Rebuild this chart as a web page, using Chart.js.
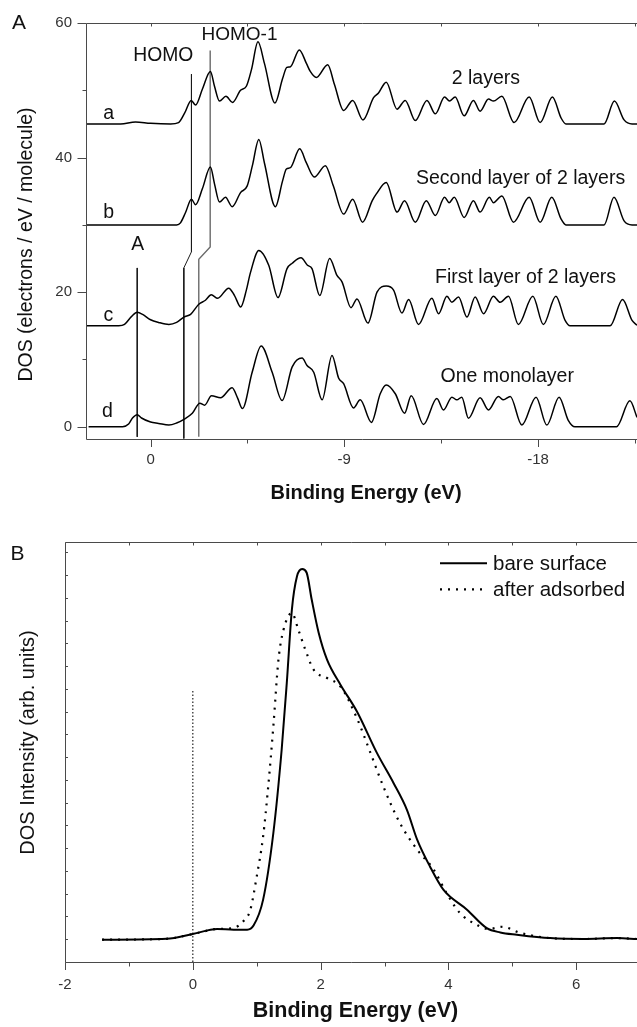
<!DOCTYPE html>
<html>
<head>
<meta charset="utf-8">
<script src="https://cdn.jsdelivr.net/npm/chart.js@4.4.1/dist/chart.umd.min.js"></script>
<style>
html,body{margin:0;padding:0;background:#fff;}
#wrap{position:relative;width:637px;height:1027px;overflow:hidden;background:#fff;}
#topChart{position:absolute;left:0;top:0;}
#botChart{position:absolute;left:0;top:515px;}
</style>
</head>
<body>
<div id="wrap">
<canvas id="topChart" width="637" height="515"></canvas>
<canvas id="botChart" width="637" height="512"></canvas>
</div>
<script>
// ---------------- Panel A data (binding energy in eV, DOS as plotted with offsets) ----------------
const energyA = [2.97, 1.39, 0.70, 0.00, -0.93, -1.30, -1.58, -1.89, -2.09, -2.41, -2.78, -2.97, -3.20, -3.50, -3.81, -4.18, -4.45, -4.69, -4.99, -5.29, -5.78, -6.13, -6.33, -6.50, -6.91, -7.24, -7.42, -7.70, -8.23, -8.54, -8.97, -9.39, -9.87, -10.36, -10.59, -10.95, -11.45, -11.83, -12.30, -12.84, -13.23, -13.66, -13.89, -14.15, -14.57, -15.00, -15.31, -15.70, -15.93, -16.32, -16.89, -17.59, -18.10, -18.67, -19.07, -19.30, -21.07, -21.55, -22.00, -22.37, -22.60];
const dosA = [45.0, 45.0, 45.3, 45.1, 45.0, 45.2, 46.6, 48.5, 47.8, 50.2, 52.8, 50.6, 48.4, 49.1, 48.2, 50.0, 50.6, 53.1, 57.2, 54.0, 48.1, 51.7, 53.4, 53.5, 56.0, 54.0, 52.8, 51.9, 53.8, 50.9, 47.0, 48.5, 45.6, 48.9, 49.6, 51.2, 47.2, 48.5, 45.5, 48.5, 46.5, 49.0, 48.4, 49.0, 46.2, 48.5, 46.9, 48.7, 48.4, 49.1, 45.2, 49.0, 45.2, 49.0, 45.9, 45.0, 45.0, 48.4, 45.6, 45.0, 45.0];

const energyB = [2.97, 1.39, 0.00, -1.21, -1.39, -1.62, -1.90, -2.09, -2.41, -2.78, -2.97, -3.20, -3.48, -3.79, -4.18, -4.49, -4.73, -5.03, -5.29, -5.80, -6.13, -6.31, -6.50, -6.93, -7.24, -7.61, -8.12, -8.49, -8.97, -9.39, -9.85, -10.30, -10.49, -10.95, -11.45, -11.80, -12.30, -12.81, -13.23, -13.66, -13.87, -14.11, -14.57, -15.00, -15.31, -15.74, -15.93, -16.32, -16.86, -17.59, -18.10, -18.64, -19.07, -19.30, -21.07, -21.53, -22.00, -22.37, -22.60];
const dosB = [30.0, 30.0, 30.0, 30.0, 30.3, 31.8, 33.8, 33.0, 35.4, 38.6, 36.1, 33.4, 34.1, 32.7, 34.8, 35.8, 38.8, 42.7, 39.2, 32.7, 36.5, 38.3, 38.5, 41.3, 39.2, 37.1, 38.8, 35.8, 31.6, 33.8, 30.4, 33.6, 34.6, 36.3, 31.9, 33.6, 30.4, 33.6, 31.4, 34.1, 33.3, 34.1, 31.1, 33.6, 31.9, 34.1, 33.3, 34.3, 30.4, 34.1, 30.4, 34.1, 30.9, 30.0, 30.0, 34.1, 30.6, 30.0, 30.0];

const energyC = [2.97, 1.48, 1.21, 0.88, 0.62, 0.37, 0.00, -0.37, -0.85, -1.21, -1.55, -1.86, -2.24, -2.55, -2.82, -3.12, -3.63, -3.90, -4.19, -4.45, -4.64, -5.03, -5.49, -5.92, -6.34, -6.58, -6.99, -7.29, -7.50, -7.86, -8.32, -8.66, -8.90, -9.31, -9.59, -10.10, -10.52, -10.95, -11.29, -11.68, -11.99, -12.45, -13.07, -13.38, -13.77, -14.00, -14.31, -14.70, -15.08, -15.47, -15.93, -16.24, -16.63, -17.09, -17.76, -18.25, -18.83, -19.26, -19.49, -21.35, -21.93, -22.37, -22.60];
const dosC = [15.0, 15.0, 15.2, 16.4, 17.0, 16.7, 15.9, 15.5, 15.2, 15.5, 16.3, 16.7, 18.2, 18.8, 19.6, 19.1, 20.6, 19.5, 17.8, 20.3, 22.9, 26.2, 24.0, 19.2, 23.5, 24.3, 25.1, 24.0, 23.5, 19.5, 25.0, 22.5, 21.5, 17.7, 19.0, 15.4, 20.0, 20.9, 20.3, 16.9, 18.9, 15.2, 19.1, 16.8, 19.4, 18.5, 19.3, 16.3, 19.3, 16.8, 19.4, 18.5, 19.4, 15.2, 19.4, 15.2, 19.4, 15.8, 15.0, 15.0, 18.9, 15.8, 15.1];

const energyD = [2.88, 1.30, 1.02, 0.84, 0.62, 0.42, 0.00, -0.37, -0.85, -1.21, -1.55, -1.94, -2.29, -2.51, -2.83, -3.25, -3.79, -4.04, -4.27, -4.72, -5.14, -5.65, -6.11, -6.58, -7.04, -7.27, -7.58, -7.97, -8.43, -8.74, -8.97, -9.43, -9.74, -10.26, -10.67, -10.95, -11.37, -11.80, -12.11, -12.68, -13.30, -13.61, -14.00, -14.23, -14.46, -14.77, -15.31, -15.70, -16.16, -16.39, -16.71, -17.25, -17.91, -18.41, -18.98, -19.40, -19.72, -21.65, -22.27, -22.60];
const dosD = [0.0, 0.0, 0.4, 1.3, 1.8, 1.3, 0.7, 0.5, 0.25, 0.55, 1.1, 2.0, 3.5, 3.2, 4.6, 4.3, 5.8, 4.3, 2.7, 8.1, 12.0, 8.1, 3.9, 8.9, 10.2, 9.1, 8.1, 4.0, 10.6, 7.2, 6.4, 2.8, 4.0, 0.65, 4.9, 6.2, 4.9, 2.0, 4.6, 0.35, 4.2, 2.5, 4.4, 4.0, 4.4, 1.25, 4.3, 2.5, 4.5, 4.0, 4.5, 0.25, 4.4, 0.25, 4.4, 1.0, 0.0, 0.0, 3.85, 1.4];

// marker lines (HOMO, HOMO-1, A)
const homoLineE = [-1.90, -1.90, -1.545, -1.545];
const homoLineY = [52.4, 26.0, 23.6, -1.75];
const homo1LineE = [-2.77, -2.77, -2.24, -2.24];
const homo1LineY = [55.9, 26.7, 24.9, -1.5];
const aLineE = [0.62, 0.62];
const aLineY = [23.6, -1.5];

const topXTicks = [-22.5, -18, -13.5, -9, -4.5, 0];
const topYTicks = [0, 10, 20, 30, 40, 50, 60];

// ---------------- Panel B data ----------------
const energyBare = [-1.42, -0.41, 0.00, 0.38, 0.64, 0.85, 0.95, 1.10, 1.26, 1.39, 1.47, 1.55, 1.63, 1.71, 1.78, 1.86, 1.97, 2.10, 2.31, 2.57, 2.88, 3.14, 3.35, 3.51, 3.71, 3.92, 4.29, 4.60, 4.81, 5.07, 5.59, 6.11, 6.64, 6.95];
const dosBare = [0.98, 1.02, 1.23, 1.45, 1.42, 1.42, 1.60, 2.74, 5.67, 9.33, 12.26, 15.49, 16.95, 17.27, 17.12, 15.93, 14.46, 13.29, 12.19, 11.0, 9.19, 7.87, 6.69, 5.38, 4.20, 3.18, 2.30, 1.49, 1.30, 1.20, 1.05, 1.01, 1.05, 1.01];
const energyAds = [-1.42, -0.41, 0.00, 0.38, 0.64, 0.79, 0.90, 1.00, 1.10, 1.18, 1.26, 1.34, 1.42, 1.55, 1.65, 1.76, 1.89, 2.10, 2.31, 2.57, 2.78, 2.98, 3.24, 3.51, 3.77, 3.97, 4.18, 4.44, 4.62, 4.85, 5.10, 5.59, 6.11, 6.64, 6.95];
const dosAds = [0.98, 1.02, 1.23, 1.45, 1.50, 1.79, 2.30, 3.76, 5.52, 7.72, 10.36, 13.29, 14.61, 15.34, 14.61, 13.73, 12.85, 12.48, 12.11, 10.7, 9.19, 7.72, 6.11, 4.94, 4.06, 3.03, 2.15, 1.64, 1.45, 1.55, 1.30, 1.05, 1.01, 1.05, 1.01];
const fermiLineE = [0, 0];
const fermiLineY = [0, 12];

const botXTicks = [-2, -1, 0, 1, 2, 3, 4, 5, 6];
const botYTicks = [0, 1, 2, 3, 4, 5, 6, 7, 8, 9, 10, 11, 12, 13, 14, 15, 16, 17, 18];

// ---------------- helpers ----------------
const FONT = '"Liberation Sans", Arial, Helvetica, sans-serif';
const AXIS_COLOR = '#4a4a4a';
const toXY = (xs, ys) => xs.map((x, i) => ({x: x, y: ys[i]}));
const isMult = (v, step) => Math.abs(v / step - Math.round(v / step)) < 1e-6;

function makeDecor(cfg) {
  return {
    id: 'decor',
    afterDraw(chart) {
      const {ctx, chartArea: a} = chart;
      const xs = chart.scales.x, ys = chart.scales.y;
      ctx.save();
      ctx.strokeStyle = AXIS_COLOR;
      ctx.lineWidth = 1;
      const L = Math.round(a.left) + 0.5, T = Math.round(a.top) + 0.5, B = Math.round(a.bottom) + 0.5, R = a.right + 2;
      ctx.beginPath();
      ctx.moveTo(R, T); ctx.lineTo(L, T); ctx.lineTo(L, B); ctx.lineTo(R, B);
      xs.ticks.forEach(t => {
        const px = Math.round(xs.getPixelForValue(t.value)) + 0.5;
        const len = isMult(t.value, cfg.xMajorStep) ? cfg.xMajorLen : cfg.xMinorLen;
        ctx.moveTo(px, B); ctx.lineTo(px, B + len);
        ctx.moveTo(px, T); ctx.lineTo(px, T + cfg.xTopLen);
      });
      ys.ticks.forEach(t => {
        const py = Math.round(ys.getPixelForValue(t.value)) + 0.5;
        const len = isMult(t.value, cfg.yMajorStep) ? cfg.yMajorLen : cfg.yMinorLen;
        ctx.moveTo(L, py); ctx.lineTo(L + cfg.yDir * len, py);
      });
      ctx.stroke();

      // texts
      cfg.texts.forEach(t => {
        ctx.save();
        ctx.font = (t.bold ? 'bold ' : '') + t.size + 'px ' + FONT;
        ctx.fillStyle = t.color || '#111';
        ctx.textAlign = t.align || 'center';
        ctx.textBaseline = 'middle';
        const px = (t.e !== undefined) ? xs.getPixelForValue(t.e) : t.px;
        const py = (t.v !== undefined) ? ys.getPixelForValue(t.v) : t.py;
        ctx.translate(px, py);
        if (t.rot) ctx.rotate(-Math.PI / 2);
        ctx.fillText(t.text, 0, 0);
        ctx.restore();
      });

      // legend
      if (cfg.legend) {
        cfg.legend.items.forEach((it, i) => {
          const ds = chart.data.datasets[it.ds];
          const y = cfg.legend.y0 + i * cfg.legend.dy;
          ctx.save();
          ctx.strokeStyle = ds.borderColor;
          ctx.lineWidth = ds.borderWidth;
          ctx.setLineDash(ds.borderDash || []);
          ctx.beginPath();
          ctx.moveTo(cfg.legend.x0, y);
          ctx.lineTo(cfg.legend.x1, y);
          ctx.stroke();
          ctx.setLineDash([]);
          ctx.font = cfg.legend.size + 'px ' + FONT;
          ctx.fillStyle = '#111';
          ctx.textAlign = 'left';
          ctx.textBaseline = 'middle';
          ctx.fillText(ds.label, cfg.legend.tx, y + 1);
          ctx.restore();
        });
      }
      ctx.restore();
    }
  };
}

const spectrum = {borderColor: '#000', borderWidth: 1.5, pointRadius: 0, cubicInterpolationMode: 'monotone', fill: false};
const marker = {pointRadius: 0, tension: 0, fill: false};

// ---------------- Panel A chart ----------------
new Chart(document.getElementById('topChart'), {
  type: 'line',
  data: {
    datasets: [
      Object.assign({label: '2 layers', data: toXY(energyA, dosA)}, spectrum),
      Object.assign({label: 'Second layer of 2 layers', data: toXY(energyB, dosB)}, spectrum),
      Object.assign({label: 'First layer of 2 layers', data: toXY(energyC, dosC)}, spectrum),
      Object.assign({label: 'One monolayer', data: toXY(energyD, dosD)}, spectrum),
      Object.assign({label: 'HOMO', data: toXY(homoLineE, homoLineY), borderColor: '#1a1a1a', borderWidth: 1}, marker),
      Object.assign({label: 'HOMO-1', data: toXY(homo1LineE, homo1LineY), borderColor: '#6a6a6a', borderWidth: 1.4}, marker),
      Object.assign({label: 'A', data: toXY(aLineE, aLineY), borderColor: '#1a1a1a', borderWidth: 1}, marker)
    ]
  },
  options: {
    responsive: false, animation: false, devicePixelRatio: 1,
    layout: {padding: {top: 22, left: 0, right: 0, bottom: 0}},
    plugins: {legend: {display: false}, tooltip: {enabled: false}},
    scales: {
      x: {
        type: 'linear', reverse: true, min: -22.6, max: 3.0,
        grid: {display: false, drawTicks: false}, border: {display: false},
        afterBuildTicks: s => { s.ticks = topXTicks.map(v => ({value: v})); },
        afterFit: s => { s.height = 76; },
        ticks: {autoSkip: false, maxRotation: 0, padding: 12, color: '#333',
                font: {family: FONT, size: 15},
                callback: v => isMult(v, 9) ? String(v) : ''}
      },
      y: {
        type: 'linear', min: -1.82, max: 60,
        grid: {display: false, drawTicks: false}, border: {display: false},
        afterBuildTicks: s => { s.ticks = topYTicks.map(v => ({value: v})); },
        afterFit: s => { s.width = 86; },
        ticks: {autoSkip: false, padding: 14, color: '#333',
                font: {family: FONT, size: 15},
                callback: v => isMult(v, 20) ? String(v) : ''}
      }
    }
  },
  plugins: [makeDecor({
    xMajorStep: 9, xMajorLen: 7.5, xMinorLen: 4, xTopLen: 3,
    yMajorStep: 20, yMajorLen: 9, yMinorLen: 4, yDir: -1,
    texts: [
      {text: 'A', px: 19, py: 23, size: 21},
      {text: 'DOS (electrons / eV / molecule)', px: 27, py: 244.5, size: 19.5, rot: true},
      {text: 'Binding Energy (eV)', px: 366, py: 493, size: 20, bold: true},
      {text: 'a', e: 1.95, v: 46.6, size: 19.5},
      {text: 'b', e: 1.95, v: 31.8, size: 19.5},
      {text: 'c', e: 1.96, v: 16.5, size: 19.5},
      {text: 'd', e: 2.0, v: 2.3, size: 19.5},
      {text: 'HOMO', e: -0.59, v: 55.1, size: 19.3},
      {text: 'HOMO-1', e: -4.13, v: 58.3, size: 19},
      {text: 'A', e: 0.60, v: 27.1, size: 19.3},
      {text: '2 layers', e: -15.58, v: 51.8, size: 19.5},
      {text: 'Second layer of 2 layers', e: -17.19, v: 36.8, size: 19.5},
      {text: 'First layer of 2 layers', e: -17.42, v: 22.2, size: 19.5},
      {text: 'One monolayer', e: -16.57, v: 7.4, size: 19.5}
    ]
  })]
});

// ---------------- Panel B chart ----------------
new Chart(document.getElementById('botChart'), {
  type: 'line',
  data: {
    datasets: [
      {label: 'bare surface', data: toXY(energyBare, dosBare), borderColor: '#000', borderWidth: 2,
       pointRadius: 0, cubicInterpolationMode: 'monotone', fill: false},
      {label: 'after adsorbed', data: toXY(energyAds, dosAds), borderColor: '#000', borderWidth: 2.2,
       borderDash: [2, 6], pointRadius: 0, cubicInterpolationMode: 'monotone', fill: false},
      {label: 'E = 0', data: toXY(fermiLineE, fermiLineY), borderColor: '#222', borderWidth: 1.2,
       borderDash: [1.5, 2], pointRadius: 0, tension: 0, fill: false}
    ]
  },
  options: {
    responsive: false, animation: false, devicePixelRatio: 1,
    layout: {padding: {top: 27, left: 0, right: 0, bottom: 0}},
    plugins: {legend: {display: false}, tooltip: {enabled: false}},
    scales: {
      x: {
        type: 'linear', min: -2, max: 6.95,
        grid: {display: false, drawTicks: false}, border: {display: false},
        afterBuildTicks: s => { s.ticks = botXTicks.map(v => ({value: v})); },
        afterFit: s => { s.height = 65; },
        ticks: {autoSkip: false, maxRotation: 0, padding: 13.5, color: '#333',
                font: {family: FONT, size: 15},
                callback: v => isMult(v, 2) ? String(v) : ''}
      },
      y: {
        type: 'linear', min: 0, max: 18.46,
        grid: {display: false, drawTicks: false}, border: {display: false},
        afterBuildTicks: s => { s.ticks = botYTicks.map(v => ({value: v})); },
        afterFit: s => { s.width = 65; },
        ticks: {display: true, padding: 0, callback: () => ''}
      }
    }
  },
  plugins: [makeDecor({
    xMajorStep: 2, xMajorLen: 7.5, xMinorLen: 4, xTopLen: 3,
    yMajorStep: 1, yMajorLen: 2.5, yMinorLen: 2.5, yDir: 1,
    texts: [
      {text: 'B', px: 17.5, py: 39, size: 21},
      {text: 'DOS Intensity (arb. units)', px: 28, py: 227.5, size: 20, rot: true},
      {text: 'Binding Energy (eV)', px: 355.5, py: 496, size: 21.5, bold: true}
    ],
    legend: {x0: 440, x1: 487, tx: 493, y0: 48.3, dy: 26, size: 20.5, items: [{ds: 0}, {ds: 1}]}
  })]
});
</script>
</body>
</html>
